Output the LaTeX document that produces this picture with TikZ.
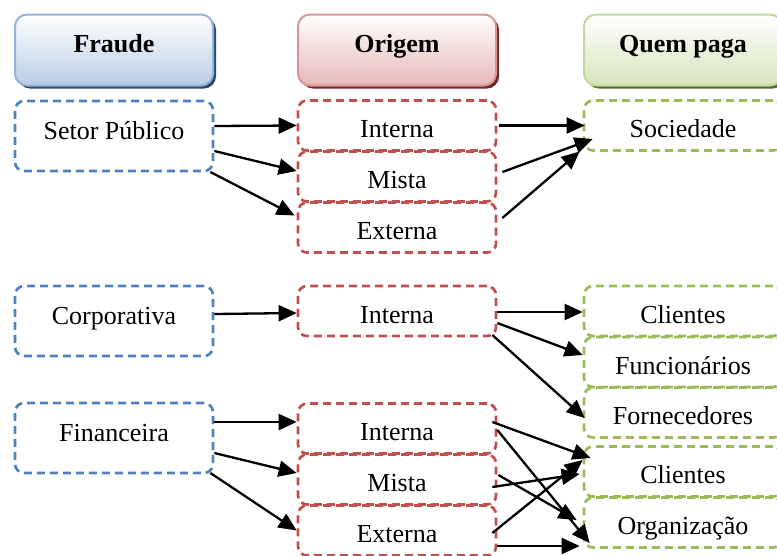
\documentclass[tikz,border=0pt]{standalone}
\usepackage{fontspec}
\setmainfont{Liberation Serif}
\usetikzlibrary{arrows.meta}
\usetikzlibrary{calc}
\usetikzlibrary{shadows}

\definecolor{fraudeline}{HTML}{4F81BD}
\definecolor{origemline}{HTML}{C0504D}
\definecolor{pagaline}{HTML}{9BBB59}
\definecolor{fraudehead}{HTML}{B9CDE5}
\definecolor{origemhead}{HTML}{E6B9B8}
\definecolor{pagahead}{HTML}{D7E4BD}
\definecolor{fraudeedge}{HTML}{95B3D7}
\definecolor{origemedge}{HTML}{D99694}
\definecolor{pagaedge}{HTML}{C3D69B}
\definecolor{fraudeshade}{HTML}{2C4A6E}
\definecolor{origemshade}{HTML}{6E2A28}
\definecolor{pagashade}{HTML}{526A2A}

\tikzset{
    head/.style n args={3}{draw=#1, line width=2pt, rounded corners=12pt,
        top color=white, bottom color=#2,
        drop shadow={shadow xshift=3pt, shadow yshift=-3pt, fill=#3, opacity=1},
        minimum width=198pt, minimum height=71pt,
        font=\fontsize{26}{30}\selectfont\bfseries, text height=18pt, text depth=13pt},
    dashbox/.style={draw=#1, dash pattern=on 8pt off 5pt, line width=2.7pt,
        rounded corners=9pt, minimum width=198pt},
    tipobox/.style={dashbox=fraudeline, minimum height=70pt, text height=18pt, text depth=11pt},
    origembox/.style={dashbox=origemline, minimum height=50pt, text height=24pt, text depth=0pt},
    pagabox/.style={dashbox=pagaline, minimum height=50pt, text height=24pt, text depth=0pt},
    seta/.style={-{Triangle[length=18pt,width=16pt]}, line width=2.3pt}
}

\begin{document}
\begin{tikzpicture}[x=1pt,y=-1pt,font=\fontsize{26}{30}\selectfont]
    \useasboundingbox (0,0) rectangle (777,555);
    \clip (0,0) rectangle (777,555);

    % cabecalhos
    \node[head={fraudeedge}{fraudehead}{fraudeshade}] (fr) at (114,50) {Fraude};
    \node[head={origemedge}{origemhead}{origemshade}] (og) at (397,50) {Origem};
    \node[head={pagaedge}{pagahead}{pagashade}] (qp) at (683,50) {Quem paga};

    % tipos de fraude
    \node[tipobox] (sp) at (114,136) {Setor Público};
    \node[tipobox] (corp) at (114,321) {Corporativa};
    \node[tipobox] (fin) at (114,438) {Financeira};

    % origem
    \node[origembox] (i1) at (397,125.5) {Interna};
    \node[origembox] (m1) at (397,176.5) {Mista};
    \node[origembox] (e1) at (397,227.5) {Externa};
    \node[origembox] (i2) at (397,311) {Interna};
    \node[origembox] (i3) at (397,428.5) {Interna};
    \node[origembox] (m3) at (397,479.5) {Mista};
    \node[origembox] (e3) at (397,530.5) {Externa};

    % quem paga
    \node[pagabox] (soc) at (683,125.5) {Sociedade};
    \node[pagabox] (cl) at (683,311) {Clientes};
    \node[pagabox] (fu) at (683,362) {Funcionários};
    \node[pagabox] (fo) at (683,412.5) {Fornecedores};
    \node[pagabox] (cl2) at (683,471.5) {Clientes};
    \node[pagabox] (org) at (683,522.5) {Organização};

    % setas
    \foreach \a/\p/\b/\q in {sp/{0,-10}/i1/{0,0}, sp/{0,15}/m1/{0,-5.5}, sp/{-4,36}/e1/{-2,-12},
            i1/{2,0}/soc/{2,0}, m1/{5,-4.5}/soc/{10,13.5}, e1/{5,-9.5}/soc/{-3,26},
            corp/{0,-7}/i2/{0,2},
            i2/{0,1}/cl/{0,1}, i2/{0,12}/fu/{0,-7}, i2/{-5,24}/fo/{2,5.5},
            fin/{0,-16}/i3/{0,-6.5}, fin/{0,15}/m3/{0,-6.5}, fin/{-4,35}/e3/{0,0},
            i3/{-5,-6.5}/cl2/{8,-13.5}, i3/{0,1.5}/org/{7,20.5},
            m3/{-5,7.5}/cl2/{-3,2.5}, m3/{1,-4.5}/org/{-6,-2.5},
            e3/{-5,2.5}/cl2/{0,-11.5}, e3/{0,15.5}/org/{-3,23.5}}
        \draw[seta] ($(\a.east)+(\p)$) -- ($(\b.west)+(\q)$);
\end{tikzpicture}
\end{document}
